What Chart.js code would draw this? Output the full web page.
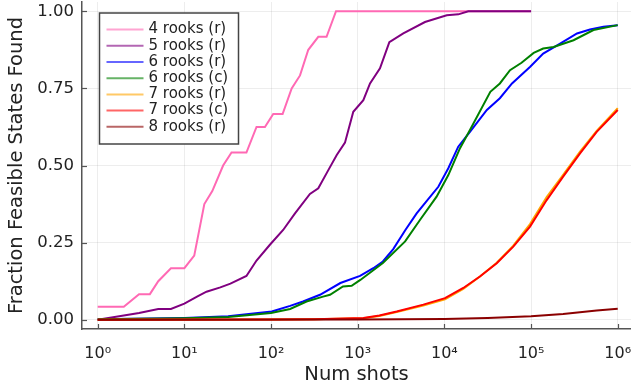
<!DOCTYPE html>
<html>
<head>
<meta charset="utf-8">
<script src="https://cdn.jsdelivr.net/npm/chart.js@4"></script>
<style>
  body { margin: 0; background: #fff; }
</style>
</head>
<body>
<canvas id="rooks" width="631" height="392"></canvas>
<script>
// ---------------- data ----------------
var seriesNames = ["4 rooks (r)", "5 rooks (r)", "6 rooks (r)", "6 rooks (c)", "7 rooks (r)", "7 rooks (c)", "8 rooks (r)"];
var seriesColors = ["#ff69b4", "#800080", "#0000ff", "#008000", "#ffa500", "#ff0000", "#8b0000"];

var shots4r = [1, 2, 3, 4, 5, 7, 10, 13, 17, 21, 28, 35, 52, 68, 85, 106, 136, 173, 216, 269, 351, 437, 562, 100000];
var found4r = [0.042, 0.042, 0.083, 0.083, 0.125, 0.167, 0.167, 0.208, 0.375, 0.417, 0.5, 0.542, 0.542, 0.625, 0.625, 0.667, 0.667, 0.75, 0.792, 0.875, 0.917, 0.917, 1.0, 1.0];

var shots5r = [1, 2, 3, 5, 7, 10, 14, 18, 26, 34, 52, 68, 97, 138, 189, 281, 351, 458, 573, 713, 889, 1161, 1387, 1807, 2317, 3357, 5970, 10640, 14500, 18880, 100000];
var found5r = [0, 0.014, 0.022, 0.035, 0.035, 0.052, 0.075, 0.091, 0.105, 0.117, 0.142, 0.192, 0.243, 0.291, 0.345, 0.408, 0.426, 0.485, 0.534, 0.574, 0.674, 0.712, 0.766, 0.815, 0.9, 0.928, 0.965, 0.987, 0.99, 1.0, 1.0];

var shots6r = [1, 10, 32, 102, 166, 234, 367, 631, 1064, 1514, 1950, 2570, 3548, 4786, 6166, 8511, 11100, 14450, 19720, 30900, 43650, 60260, 97720, 138000, 216300, 338800, 478600, 683900, 1000000];
var found6r = [0.0014, 0.006, 0.011, 0.027, 0.045, 0.059, 0.081, 0.119, 0.142, 0.167, 0.189, 0.229, 0.291, 0.345, 0.383, 0.431, 0.491, 0.561, 0.609, 0.68, 0.718, 0.766, 0.82, 0.863, 0.895, 0.928, 0.941, 0.95, 0.955];

var shots6c = [1, 10, 32, 100, 166, 257, 398, 479, 676, 851, 1072, 1950, 3524, 5248, 8128, 11100, 15140, 19720, 33880, 43650, 57150, 77620, 107200, 138000, 182000, 309000, 524800, 1000000];
var found6c = [0.0014, 0.005, 0.009, 0.022, 0.035, 0.059, 0.075, 0.081, 0.108, 0.11, 0.129, 0.184, 0.254, 0.324, 0.399, 0.469, 0.556, 0.615, 0.739, 0.766, 0.809, 0.833, 0.865, 0.879, 0.884, 0.906, 0.939, 0.955];

var shots7 = [1, 100, 316, 1162, 1778, 2818, 5715, 10160, 16520, 25700, 40180, 62370, 97270, 151400, 234400, 367300, 571500, 1000000];
var found7r = [0.0002, 0.001, 0.002, 0.005, 0.012, 0.025, 0.046, 0.066, 0.1, 0.14, 0.185, 0.24, 0.31, 0.398, 0.47, 0.545, 0.612, 0.686];
var found7c = [0.0002, 0.001, 0.002, 0.0055, 0.014, 0.027, 0.049, 0.07, 0.103, 0.14, 0.183, 0.237, 0.302, 0.388, 0.464, 0.539, 0.609, 0.68];

var shots8r = [1, 1000, 10000, 31620, 100000, 234400, 571500, 1000000];
var found8r = [0, 0.001, 0.0025, 0.006, 0.011, 0.019, 0.03, 0.0356];

var xTickValues = [1, 10, 100, 1000, 10000, 100000, 1000000];
var xTickLabels = ["10⁰", "10¹", "10²", "10³", "10⁴", "10⁵", "10⁶"];
var yTickValues = [0, 0.25, 0.5, 0.75, 1];

// ---------------- build datasets ----------------
var shotLists = [shots4r, shots5r, shots6r, shots6c, shots7, shots7, shots8r];
var foundLists = [found4r, found5r, found6r, found6c, found7r, found7c, found8r];

function points(xs, ys) {
  return xs.map(function (x, i) { return { x: x, y: ys[i] }; });
}

var datasets = seriesNames.map(function (name, i) {
  return {
    label: name,
    data: points(shotLists[i], foundLists[i]),
    borderColor: seriesColors[i],
    borderWidth: 2,
    pointRadius: 0,
    tension: 0,
    fill: false,
    order: seriesNames.length - i // later series on top, like the original
  };
});

var axisGray = "#555";
var textColor = "#222";
var fontFamily = "'DejaVu Sans', sans-serif";

// small inward tick marks on both axes
var axisTicks = {
  id: "axisTicks",
  beforeDatasetsDraw: function (chart) {
    var ctx = chart.ctx, area = chart.chartArea;
    var xs = chart.scales.x, ys = chart.scales.y;
    ctx.save();
    ctx.strokeStyle = axisGray;
    ctx.lineWidth = 1.2;
    xTickValues.forEach(function (v) {
      var px = Math.round(xs.getPixelForValue(v)) + 0.5;
      ctx.beginPath();
      ctx.moveTo(px, area.bottom);
      ctx.lineTo(px, area.bottom - 5);
      ctx.stroke();
    });
    yTickValues.forEach(function (v) {
      var py = Math.round(ys.getPixelForValue(v)) + 0.5;
      ctx.beginPath();
      ctx.moveTo(area.left, py);
      ctx.lineTo(area.left + 5, py);
      ctx.stroke();
    });
    ctx.restore();
  }
};

// framed legend inside the plot, top left
var boxLegend = {
  id: "boxLegend",
  afterDraw: function (chart) {
    var ctx = chart.ctx, area = chart.chartArea;
    var left = area.left + 17.5, top = area.top + 11, w = 139, h = 131;
    ctx.save();
    ctx.fillStyle = "#fff";
    ctx.fillRect(left, top, w, h);
    ctx.strokeStyle = "#444";
    ctx.lineWidth = 1.5;
    ctx.strokeRect(left, top, w, h);
    ctx.font = "15px " + fontFamily;
    ctx.textBaseline = "middle";
    chart.data.datasets.forEach(function (ds, i) {
      var y = top + 16.6 + i * 16.2;
      ctx.globalAlpha = 0.6;
      ctx.strokeStyle = ds.borderColor;
      ctx.lineWidth = 2;
      ctx.beginPath();
      ctx.moveTo(left + 7, y);
      ctx.lineTo(left + 44, y);
      ctx.stroke();
      ctx.globalAlpha = 1;
      ctx.fillStyle = textColor;
      ctx.fillText(ds.label, left + 49, y);
    });
    ctx.restore();
  }
};

new Chart(document.getElementById("rooks"), {
  type: "line",
  data: { datasets: datasets },
  plugins: [axisTicks, boxLegend],
  options: {
    responsive: false,
    animation: false,
    events: [],
    layout: { padding: { top: 2, left: 0, right: 0, bottom: 0 } },
    plugins: { legend: { display: false }, tooltip: { enabled: false } },
    scales: {
      x: {
        type: "logarithmic",
        min: Math.pow(10, -0.181),
        max: Math.pow(10, 6.153),
        afterBuildTicks: function (scale) {
          scale.ticks = xTickValues.map(function (v) { return { value: v }; });
        },
        afterFit: function (scale) {
          scale.height = 63;
          scale.paddingLeft = 0;
          scale.paddingRight = 0;
        },
        grid: { color: "rgba(0,0,0,0.07)", lineWidth: 1, drawTicks: false },
        border: { color: axisGray, width: 1.5 },
        ticks: {
          autoSkip: false,
          maxRotation: 0,
          padding: 15,
          color: textColor,
          font: { family: fontFamily, size: 16 },
          callback: function (value) {
            return xTickLabels[xTickValues.indexOf(value)];
          }
        },
        title: {
          display: true,
          text: "Num shots",
          color: textColor,
          font: { family: fontFamily, size: 19.5 },
          padding: { top: 0, bottom: 5 }
        }
      },
      y: {
        type: "linear",
        min: -0.03,
        max: 1.03,
        afterBuildTicks: function (scale) {
          scale.ticks = yTickValues.map(function (v) { return { value: v }; });
        },
        afterFit: function (scale) {
          scale.width = 82;
          scale.paddingTop = 0;
          scale.paddingBottom = 0;
        },
        grid: { color: "rgba(0,0,0,0.07)", lineWidth: 1, drawTicks: false },
        border: { color: axisGray, width: 1.5 },
        ticks: {
          padding: 8,
          color: textColor,
          font: { family: fontFamily, size: 16.5 },
          callback: function (value) { return value.toFixed(2); }
        },
        title: {
          display: true,
          text: "Fraction Feasible States Found",
          color: textColor,
          font: { family: fontFamily, size: 19.5 },
          padding: { top: 5.5, bottom: 0 }
        }
      }
    }
  }
});
</script>
</body>
</html>
